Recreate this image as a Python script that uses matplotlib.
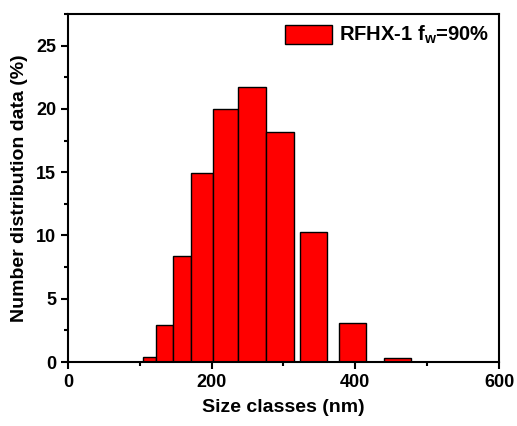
import matplotlib
matplotlib.use("Agg")
import matplotlib.pyplot as plt
from matplotlib.ticker import MultipleLocator

plt.rcParams['font.family'] = ['Liberation Sans', 'DejaVu Sans']
plt.rcParams['font.weight'] = 'bold'
plt.rcParams['mathtext.fontset'] = 'custom'
plt.rcParams['mathtext.rm'] = 'Liberation Sans:bold'
plt.rcParams['mathtext.it'] = 'Liberation Sans:bold'
plt.rcParams['mathtext.bf'] = 'Liberation Sans:bold'

# Data (size class centre, bar width, number %)
size_centers = [113.5, 134.5, 158.5, 186.5, 219.0, 256.0, 295.5, 341.5, 396.0, 458.7]
bar_widths = [19, 23, 25, 31, 34, 40, 39, 38, 38, 38.5]
number_pct = [0.4, 2.9, 8.4, 14.9, 20.0, 21.7, 18.2, 10.3, 3.1, 0.3]
series_label = r'RFHX-1 f$_{w}$=90%'
x_ticks = [0, 200, 400, 600]
y_ticks = [0, 5, 10, 15, 20, 25]

fig = plt.figure(figsize=(5.17, 4.26), dpi=100)
ax = fig.add_axes([0.1315, 0.1502, 0.8337, 0.8168])

ax.bar(size_centers, number_pct, width=bar_widths, color='#ff0000',
       edgecolor='black', linewidth=1.0, label=series_label)

ax.set_xlim(0, 600)
ax.set_ylim(0, 27.5)
ax.set_xticks(x_ticks)
ax.set_yticks(y_ticks)
ax.xaxis.set_minor_locator(MultipleLocator(100))
ax.yaxis.set_minor_locator(MultipleLocator(2.5))
ax.tick_params(which='major', direction='out', length=5, width=1.5, labelsize=13)
ax.tick_params(which='minor', direction='out', length=3, width=1.5)
for s in ax.spines.values():
    s.set_linewidth(1.5)

ax.set_xlabel('Size classes (nm)', fontsize=14, fontweight='bold', labelpad=6)
ax.set_ylabel('Number distribution data (%)', fontsize=14, fontweight='bold', labelpad=6)

ax.legend(loc='upper right', frameon=False, fontsize=14.5, handlelength=2.3,
          handleheight=1.05, handletextpad=0.35, borderaxespad=0.2, borderpad=0.3)

fig.savefig('out.png', dpi=100)
